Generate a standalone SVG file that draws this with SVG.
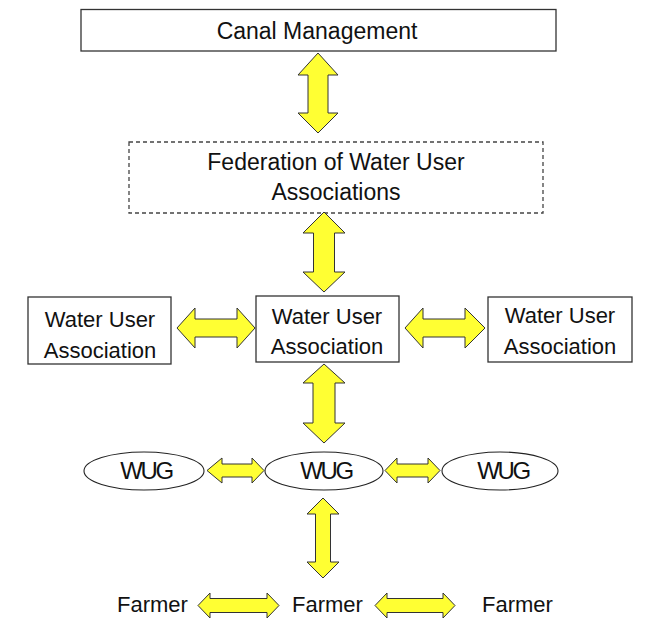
<svg xmlns="http://www.w3.org/2000/svg" width="646" height="619" viewBox="0 0 646 619">
<style>
.box{fill:#fff;stroke:#333;stroke-width:1.3}
.dash{fill:#fff;stroke:#444;stroke-width:1.3;stroke-dasharray:4 3}
.ell{fill:#fff;stroke:#222;stroke-width:1.1}
.t{font-family:"Liberation Sans",Arial,sans-serif;font-size:22px;fill:#111;text-anchor:middle}
.big{font-size:23px}
.wug{font-family:"Liberation Sans",Arial,sans-serif;font-size:24px;fill:#111;text-anchor:middle;letter-spacing:-2.4px}
.arr{fill:#ffff33;stroke:#333;stroke-width:1;stroke-linejoin:miter}
</style>
<rect width="646" height="619" fill="#fff"/>
<g id="canal">
<rect class="box" x="81" y="9.5" width="475" height="41.5"/>
<text class="t big" x="317" y="39">Canal Management</text>
</g>
<g id="federation">
<rect class="dash" x="129" y="142" width="414" height="71"/>
<text class="t big" x="336" y="170">Federation of Water User</text>
<text class="t big" x="336" y="200">Associations</text>
</g>
<g id="wua-left">
<rect class="box" x="28" y="297" width="143" height="67"/>
<text class="t" x="100" y="327">Water User</text>
<text class="t" x="100" y="358">Association</text>
</g>
<g id="wua-center">
<rect class="box" x="256" y="296" width="143" height="66"/>
<text class="t" x="327" y="324">Water User</text>
<text class="t" x="327" y="354">Association</text>
</g>
<g id="wua-right">
<rect class="box" x="488" y="297" width="144" height="65"/>
<text class="t" x="560" y="323">Water User</text>
<text class="t" x="560" y="354">Association</text>
</g>
<g id="wug-left">
<ellipse class="ell" cx="144" cy="471" rx="60" ry="19"/>
<text class="wug" x="146" y="479">WUG</text>
</g>
<g id="wug-center">
<ellipse class="ell" cx="324" cy="471" rx="59" ry="19"/>
<text class="wug" x="326" y="479">WUG</text>
</g>
<g id="wug-right">
<ellipse class="ell" cx="500" cy="471" rx="58" ry="19"/>
<text class="wug" x="503" y="479">WUG</text>
</g>
<g id="farmer-left">
<text class="t" x="152.5" y="612">Farmer</text>
</g>
<g id="farmer-center">
<text class="t" x="327.5" y="612">Farmer</text>
</g>
<g id="farmer-right">
<text class="t" x="517.5" y="612">Farmer</text>
</g>
<g id="connectors">
<polygon class="arr" points="318,53 338,75 328,75 328,113 338,113 318,133 298,113 308,113 308,75 298,75"/>
<polygon class="arr" points="324,212 345,233 334.5,233 334.5,272 345,272 324,292 303,272 313.5,272 313.5,233 303,233"/>
<polygon class="arr" points="324,364 345,383 335,383 335,423 345,423 324,443 303,423 313,423 313,383 303,383"/>
<polygon class="arr" points="323,498 339,514 330.5,514 330.5,562 339,562 323,578 307,562 315.5,562 315.5,514 307,514"/>
<polygon class="arr" points="177,328 195,308 195,319 237,319 237,308 255,328 237,348 237,337 195,337 195,348"/>
<polygon class="arr" points="405,328 423,308 423,319 465,319 465,308 485,328 465,348 465,337 423,337 423,348"/>
<polygon class="arr" points="207,470.5 222,458 222,464 252,464 252,458 264,470.5 252,483 252,477 222,477 222,483"/>
<polygon class="arr" points="385,470.5 397,458 397,464 428,464 428,458 440,470.5 428,483 428,477 397,477 397,483"/>
<polygon class="arr" points="198,605.5 210,593 210,598.5 267,598.5 267,593 279,605.5 267,618 267,612.5 210,612.5 210,618"/>
<polygon class="arr" points="375,605.5 387,593 387,598.5 443,598.5 443,593 455,605.5 443,618 443,612.5 387,612.5 387,618"/>
</g>
</svg>
